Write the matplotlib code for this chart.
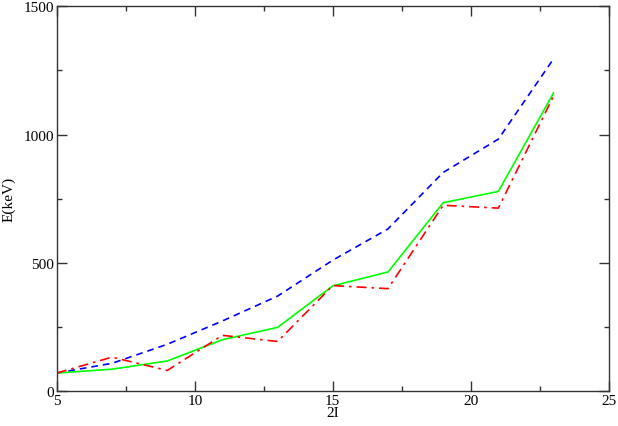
import matplotlib
matplotlib.use("Agg")
import matplotlib.pyplot as plt
from matplotlib.ticker import MultipleLocator

plt.rcParams['font.family'] = ['Liberation Serif', 'DejaVu Serif']

# 2I values and energies (keV)
spin2 = [5, 7, 9, 11, 13, 15, 17, 19, 21, 23]
e_blue = [70, 108, 182, 273, 370, 510, 632, 852, 982, 1295]
e_green = [70, 85, 117, 200, 248, 410, 464, 734, 778, 1162]
e_red = [70, 132, 80, 217, 193, 411, 399, 724, 713, 1150]

fig = plt.figure(figsize=(6.18, 4.27), dpi=100)
ax = fig.add_axes([0.092, 0.082, 0.893, 0.901])

ax.plot(spin2, e_blue, color='#0000ff', lw=1.2, dashes=(4, 3))
ax.plot(spin2, e_green, color='#00ff00', lw=1.2)
ax.plot(spin2, e_red, color='#ff0000', lw=1.2, dashes=(6, 3, 1.5, 3))

ax.set_xlim(5, 25)
ax.set_ylim(0, 1500)
ax.xaxis.set_major_locator(MultipleLocator(5))
ax.xaxis.set_minor_locator(MultipleLocator(2.5))
ax.yaxis.set_major_locator(MultipleLocator(500))
ax.yaxis.set_minor_locator(MultipleLocator(250))
ax.tick_params(which='both', direction='in', top=True, right=True,
               labelsize=11, width=1, color='#333333')
ax.tick_params(axis='x', which='both', pad=2)
ax.tick_params(axis='y', which='both', pad=2)
ax.tick_params(which='major', length=7)
ax.tick_params(which='minor', length=3.5)
for s in ax.spines.values():
    s.set_color('#333333')
    s.set_linewidth(1)

ax.set_xlabel('2I', fontsize=11, labelpad=-0.5)
ax.set_ylabel('E(keV)', fontsize=11, labelpad=6)

fig.savefig('out.png', dpi=100)
